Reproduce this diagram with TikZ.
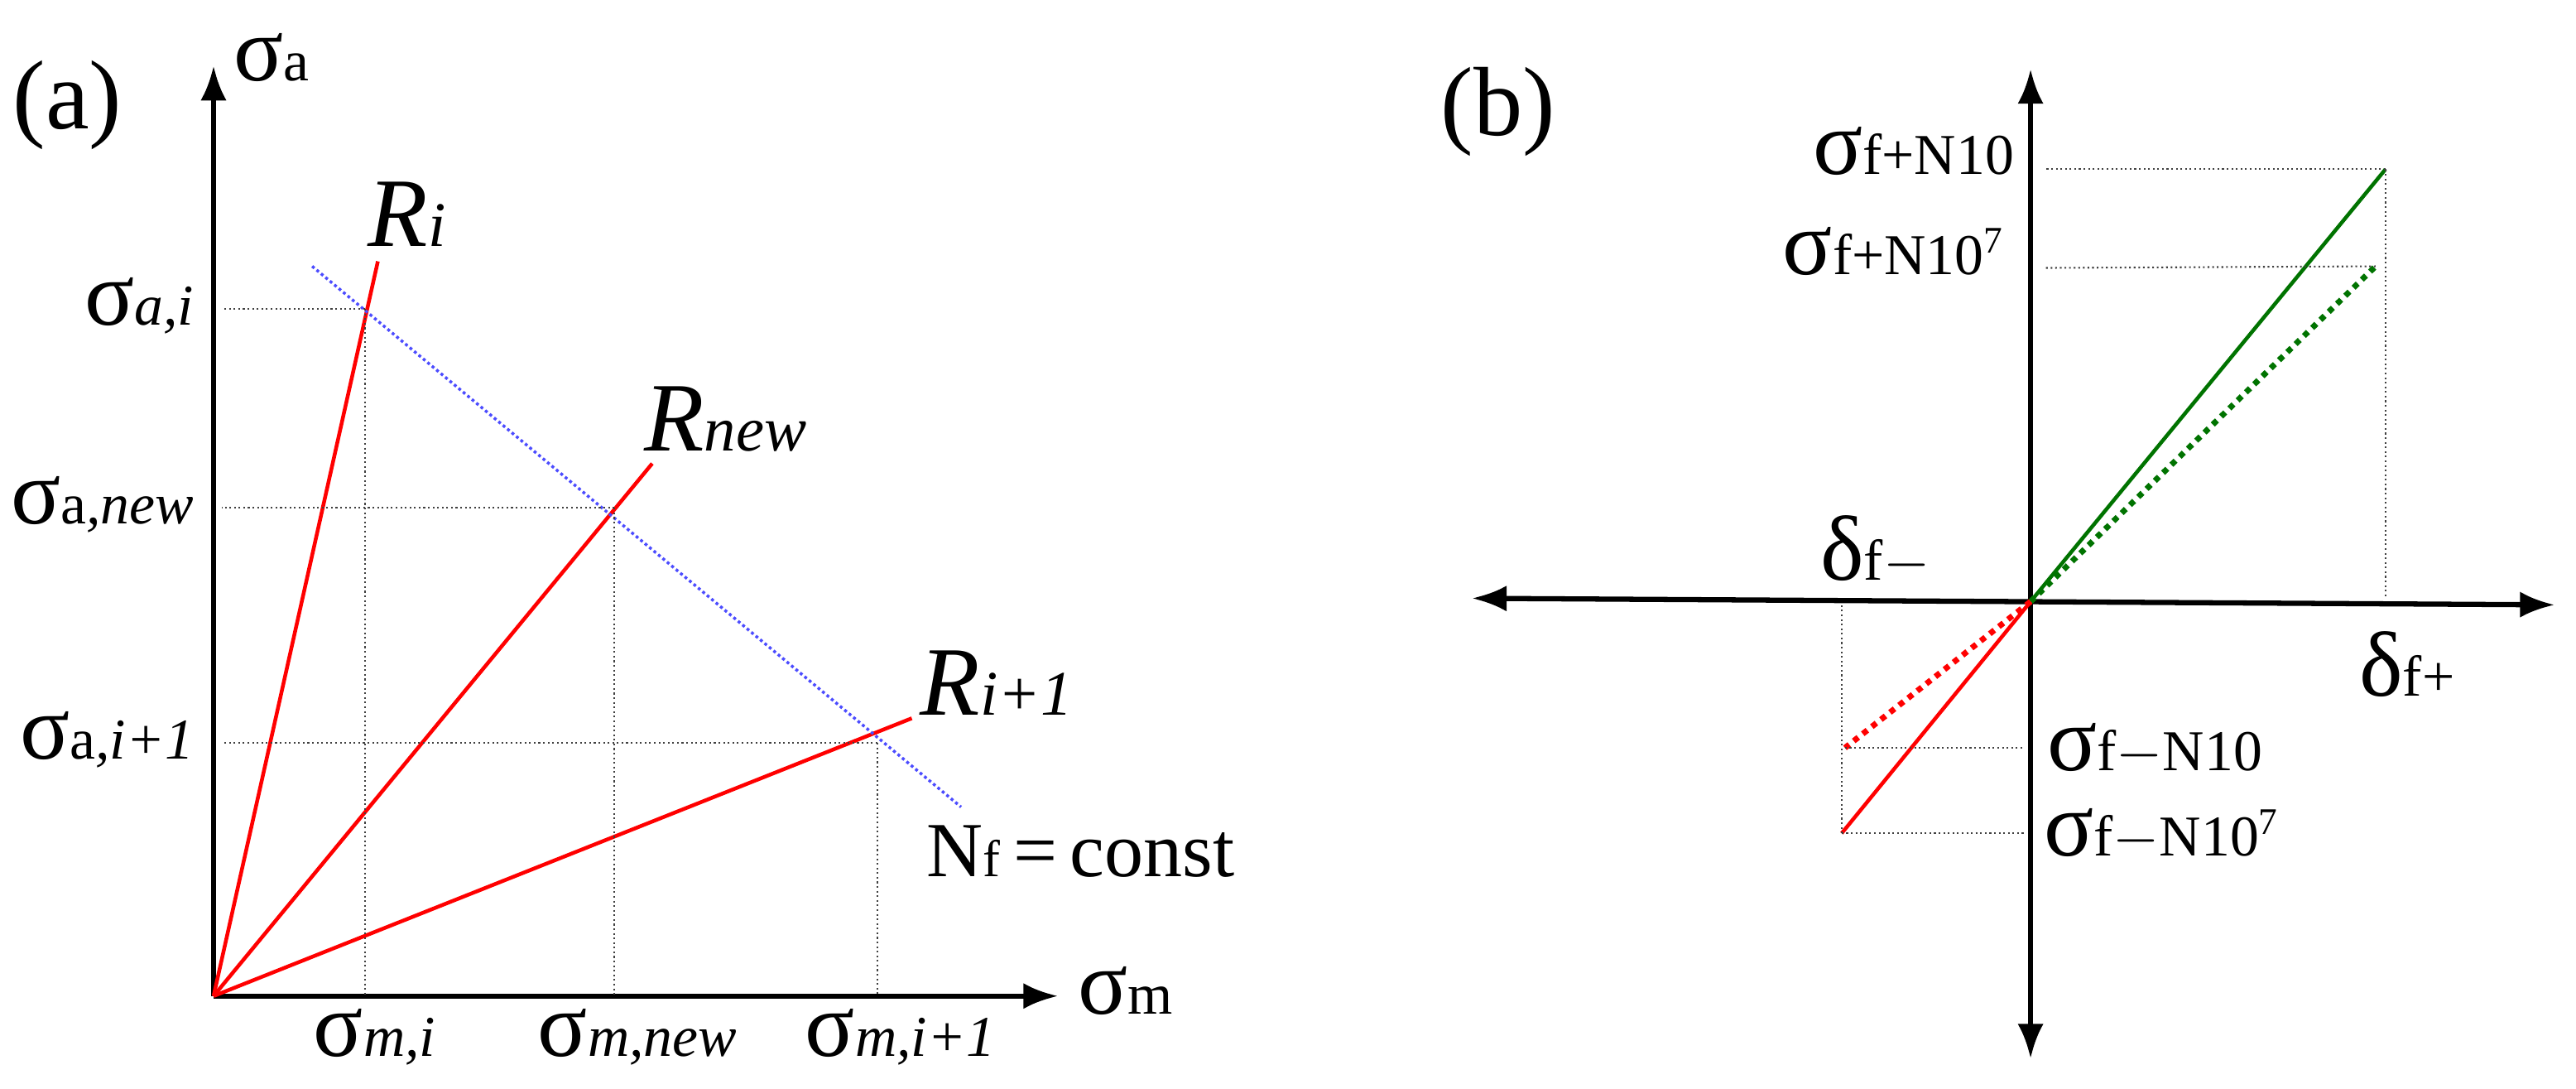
\documentclass[tikz,border=0pt]{standalone}
\usepackage{fontspec}
\setmainfont{Liberation Serif}
\usetikzlibrary{positioning,arrows.meta}
\newcommand{\sig}[2]{{\fontsize{32}{32}\selectfont σ}{\fontsize{20}{20}\selectfont #2}}
\newcommand{\lblsize}{\fontsize{34}{34}\selectfont}
\begin{document}
\begin{tikzpicture}[x=0.02cm,y=-0.02cm,
    axis/.style={line width=1.8pt, -{Latex[length=12pt,width=9pt]}},
    axisb/.style={line width=1.8pt, {Latex[length=12pt,width=9pt]}-{Latex[length=12pt,width=9pt]}},
    ray/.style={red, line width=1.3pt},
    guide/.style={densely dotted, line width=0.6pt, black!75},
    lbl/.style={inner sep=1pt}
]
\useasboundingbox (0,0) rectangle (1568,662.5);

% (a)
\node[lbl] (pa) at (41,64) {\lblsize (a)};
\coordinate (O) at (130,606);
\coordinate (Ytop) at (130,40);
\coordinate (Xend) at (644,606);
\draw[axis] (O) -- (Ytop);
\draw[axis] (O) -- (Xend);
\node[lbl, anchor=south west] (sa) at (140,52) {\sig{}{a}};
\node[lbl, anchor=west] (sm) at (654,603) {\sig{}{m}};

% rays
\coordinate (Ri) at (230,159);
\coordinate (Rn) at (397,282);
\coordinate (Rj) at (555,437);
\draw[ray] (O) -- (Ri);
\draw[ray] (O) -- (Rn);
\draw[ray] (O) -- (Rj);
\node[lbl, anchor=south west] (lRi) at (222,152) {\lblsize\itshape R{\fontsize{22}{22}\selectfont i}};
\node[lbl, anchor=south west] (lRn) at (390,277) {\lblsize\itshape R{\fontsize{22}{22}\selectfont new}};
\node[lbl, anchor=south west] (lRj) at (558,437) {\lblsize\itshape R{\fontsize{22}{22}\selectfont i+1}};

% constant life line
\coordinate (N1) at (190,162);
\coordinate (N2) at (585,491);
\draw[blue!70, densely dotted, line width=1pt] (N1) -- (N2);
\node[lbl, anchor=north west] (nf) at (562,500) {\fontsize{27}{27}\selectfont N{\fontsize{18}{18}\selectfont f}\,=\,const};

% guides
\coordinate (Pi) at (222,188);
\coordinate (Pn) at (374,309);
\coordinate (Pj) at (534,452);
\foreach \p/\yy in {Pi/188,Pn/309,Pj/452}{
  \draw[guide] (\p) -- (135,\yy);
}
\draw[guide] (Pi) -- (222,606);
\draw[guide] (Pn) -- (374,606);
\draw[guide] (Pj) -- (534,606);
\node[lbl, anchor=east] (sai) at (120,186) {\sig{}{\itshape a,i}};
\node[lbl, anchor=east] (san) at (120,307) {\sig{}{a\itshape ,new}};
\node[lbl, anchor=east] (saj) at (120,450) {\sig{}{a\itshape ,i+1}};
\node[lbl, anchor=north] (smi) at (228,612) {\sig{}{\itshape m,i}};
\node[lbl, anchor=north] (smn) at (388,612) {\sig{}{\itshape m,new}};
\node[lbl, anchor=north] (smj) at (548,612) {\sig{}{\itshape m,i+1}};

% (b)
\node[lbl] (pb) at (912,68) {\lblsize (b)};
\coordinate (B) at (1236,366);
\coordinate (Bt) at (1236,42);
\coordinate (Bb) at (1236,644);
\coordinate (Bl) at (896,364);
\coordinate (Br) at (1555,368);
\draw[axisb] (Bb) -- (Bt);
\draw[axisb] (Bl) -- (Br);

\coordinate (G1) at (1452,103);
\coordinate (G2) at (1446,162);
\coordinate (R1) at (1121,507);
\coordinate (R2) at (1123,455);
\draw[green!45!black, line width=1.3pt] (B) -- (G1);
\draw[green!45!black, line width=2pt, dotted] (B) -- (G2);
\draw[ray] (B) -- (R1);
\draw[red, line width=2pt, dotted] (B) -- (R2);

\draw[guide] (G1) -- (1244,103);
\draw[guide] (G1) -- (1452,364);
\draw[guide] (G2) -- (1244,163);
\draw[guide] (R1) -- (1121,368);
\draw[guide] (R2) -- (1232,455);
\draw[guide] (R1) -- (1232,507);

\node[lbl, anchor=east] (sf1) at (1228,92) {\sig{}{f+N10}};
\node[lbl, anchor=east] (sf2) at (1222,153) {\sig{}{f+N10\textsuperscript{\fontsize{13}{13}\selectfont 7}}};
\node[lbl, anchor=west] (sf3) at (1244,456) {\sig{}{f$-$N10}};
\node[lbl, anchor=west] (sf4) at (1242,508) {\sig{}{f$-$N10\textsuperscript{\fontsize{13}{13}\selectfont 7}}};
\node[lbl, anchor=south west] (dm) at (1106,358) {{\fontsize{32}{32}\selectfont δ}{\fontsize{20}{20}\selectfont f$-$}};
\node[lbl, anchor=north west] (dp) at (1434,382) {{\fontsize{32}{32}\selectfont δ}{\fontsize{20}{20}\selectfont f+}};
\end{tikzpicture}
\end{document}
